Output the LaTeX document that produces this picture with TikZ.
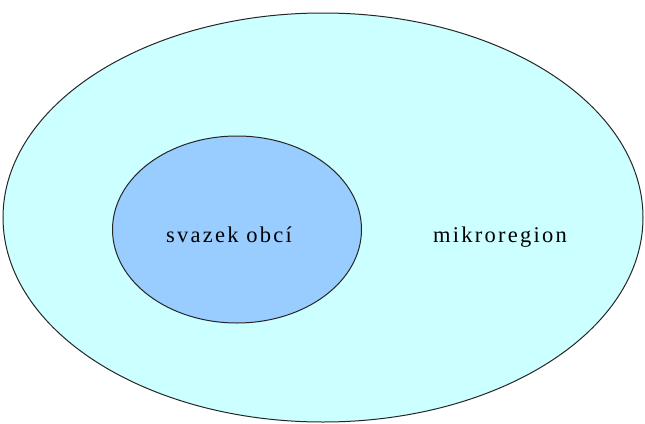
\documentclass[tikz,border=0pt]{standalone}
\usepackage{fontspec}
\setmainfont{Liberation Serif}[LetterSpace=10]
\definecolor{outerfill}{RGB}{204,255,255}
\definecolor{innerfill}{RGB}{153,204,255}
\begin{document}
\begin{tikzpicture}[x=1pt,y=-1pt,
  blob/.style={draw=black!85,line width=1pt},
  lbl/.style={font=\fontsize{22.5}{26}\selectfont,inner sep=0pt,anchor=base}]
\useasboundingbox (0,0) rectangle (645,423);
\fill[white] (0,0) rectangle (645,423);
\draw[blob,fill=outerfill] (323,217.5) ellipse [x radius=320,y radius=204.5];
\draw[blob,fill=innerfill] (237,229.5) ellipse [x radius=124.5,y radius=93.5];
\node[lbl] (svazek) at (229,242) {svazek obcí};
\node[lbl] (mikro) at (500,242) {mikroregion};
\end{tikzpicture}
\end{document}
